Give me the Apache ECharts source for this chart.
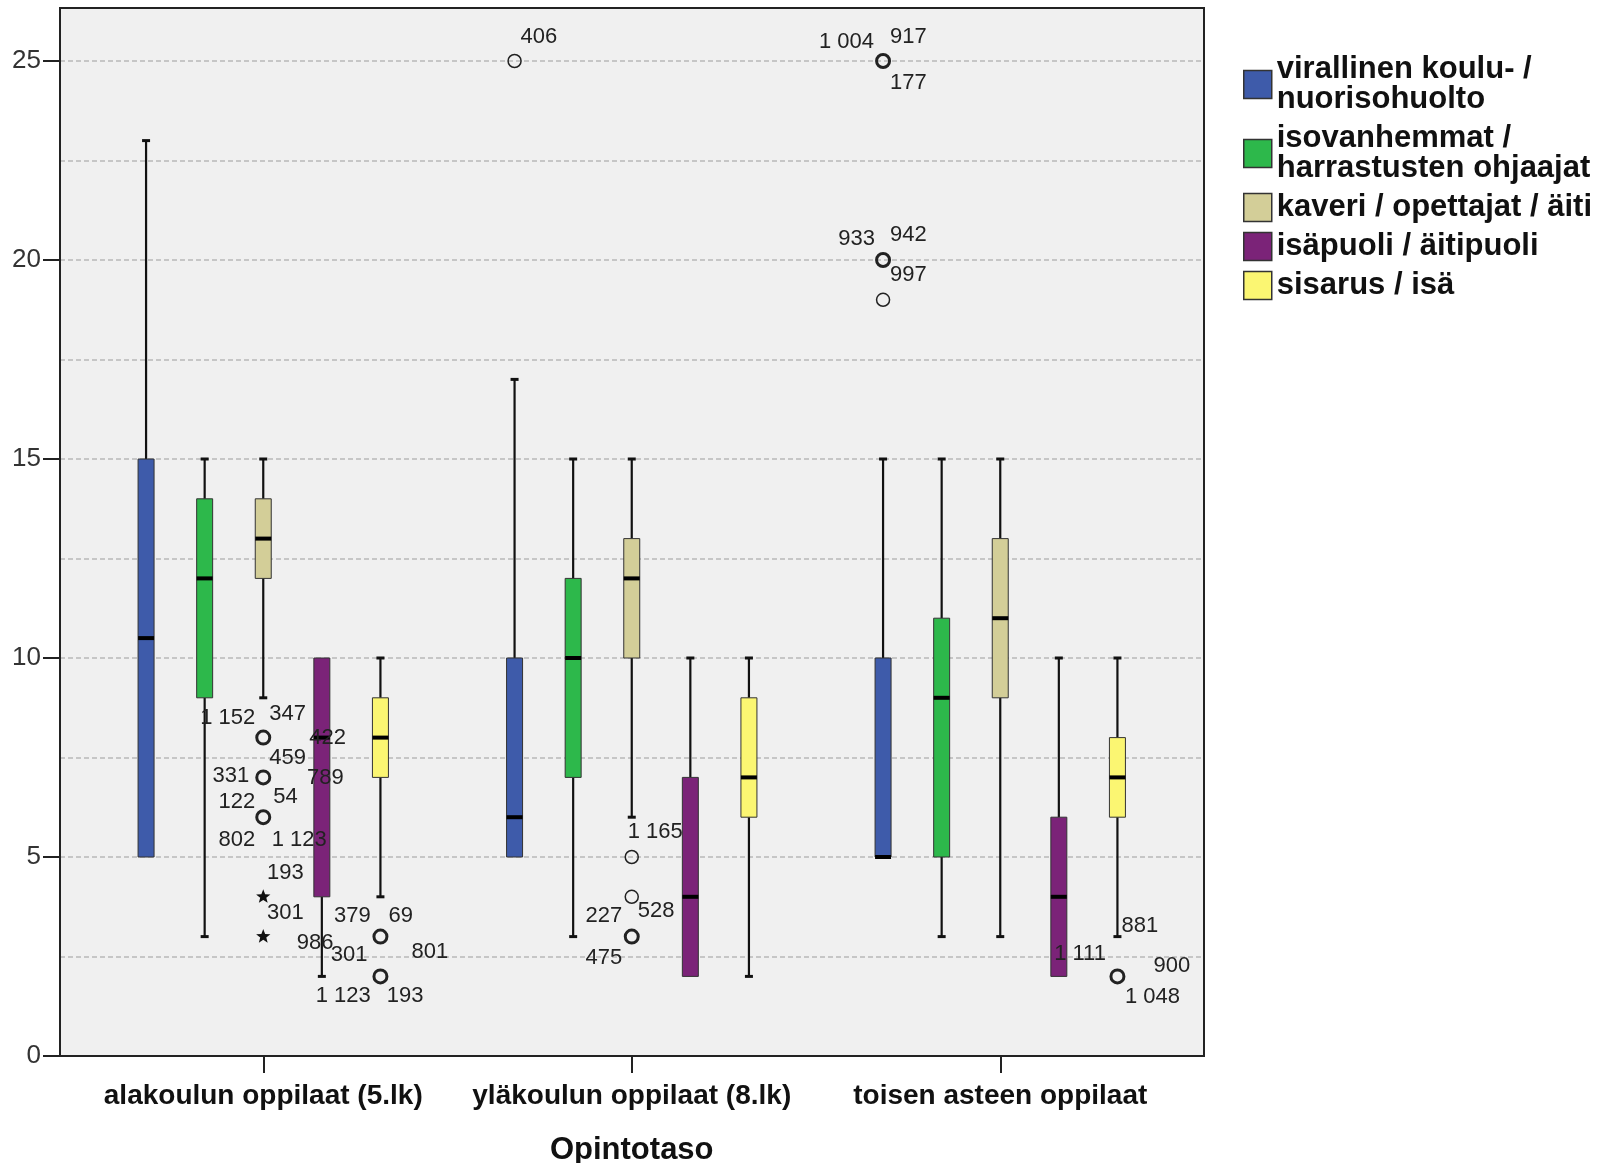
<!DOCTYPE html>
<html><head><meta charset="utf-8">
<script src="https://cdn.jsdelivr.net/npm/echarts@6/dist/echarts.min.js"></script>
<style>html,body{margin:0;padding:0;background:#fff}#c{width:1612px;height:1163px}</style>
</head><body><div id="c"></div>
<script>
// ---------- DATA ----------
const categories = ['alakoulun oppilaat (5.lk)', 'yläkoulun oppilaat (8.lk)', 'toisen asteen oppilaat'];
const seriesNames = ['virallinen koulu- /\nnuorisohuolto', 'isovanhemmat /\nharrastusten ohjaajat', 'kaveri / opettajat / äiti', 'isäpuoli / äitipuoli', 'sisarus / isä'];
const axisTitle = 'Opintotaso';
const yTickLabels = [0, 5, 10, 15, 20, 25];

// [min, q1, median, q3, max] per category
const virallinenBox = [[5, 5, 10.5, 15, 23], [5, 5, 6, 10, 17], [5, 5, 5, 10, 15]];
const isovanhemmatBox = [[3, 9, 12, 14, 15], [3, 7, 10, 12, 15], [3, 5, 9, 11, 15]];
const kaveriBox = [[9, 12, 13, 14, 15], [6, 10, 12, 13, 15], [3, 9, 11, 13, 15]];
const isapuoliBox = [[2, 4, 8, 10, 10], [2, 2, 4, 7, 10], [2, 2, 4, 6, 10]];
const sisarusBox = [[4, 7, 8, 9, 10], [2, 6, 7, 9, 10], [3, 6, 7, 8, 10]];

// outliers: [categoryIndex, value, kind]  kind 0 = circle, 1 = bold circle, 2 = star
const virallinenOut = [[1, 25, 0], [2, 25, 1], [2, 20, 1], [2, 19, 0]];
const isovanhemmatOut = [];
const kaveriOut = [[0, 8, 1], [0, 7, 1], [0, 6, 1], [0, 4, 2], [0, 3, 2], [1, 5, 0], [1, 4, 0], [1, 3, 1]];
const isapuoliOut = [];
const sisarusOut = [[0, 3, 1], [0, 2, 1], [2, 2, 1]];

// case labels: [categoryIndex, value, text]
const virallinenLabels = [[1, 25, '406'], [2, 25, '1 004'], [2, 25, '917'], [2, 25, '177'], [2, 20, '933'], [2, 20, '942'], [2, 20, '997']];
const isovanhemmatLabels = [];
const kaveriLabels = [[0, 8, '1 152'], [0, 8, '347'], [0, 8, '422'], [0, 7, '459'], [0, 7, '331'], [0, 7, '789'],
  [0, 6, '122'], [0, 6, '54'], [0, 6, '802'], [0, 6, '1 123'], [0, 4, '193'], [0, 4, '301'], [0, 3, '986'],
  [1, 5, '1 165'], [1, 3, '227'], [1, 4, '528'], [1, 3, '475']];
const isapuoliLabels = [];
const sisarusLabels = [[0, 3, '379'], [0, 3, '69'], [0, 3, '301'], [0, 3, '801'], [0, 2, '1 123'], [0, 2, '193'],
  [2, 3, '881'], [2, 2, '1 111'], [2, 2, '900'], [2, 2, '1 048']];

// ---------- STYLE / PLACEMENT ----------
const COLORS = ['#3E5BAA', '#2DB84B', '#D3CE98', '#7B2378', '#FBF672'];
const BOX_STEP = 0.159;   // box spacing as fraction of category band
const BOX_WIDTH = 0.0434; // box width as fraction of category band
// label offsets [dx, dy, align]
const virallinenLabelPos = [[6, -24, 'left'], [-9, -19, 'right'], [7, -24, 'left'], [7, 22, 'left'], [-8, -21, 'right'], [7, -25, 'left'], [7, 15, 'left']];
const isovanhemmatLabelPos = [];
const kaveriLabelPos = [[-8, -20, 'right'], [6, -23.5, 'left'], [46, 0, 'left'], [6, -19.3, 'left'], [-14, -1, 'right'], [43.7, 0.7, 'left'],
  [-8, -15.6, 'right'], [10, -20.6, 'left'], [-8, 22.7, 'right'], [8.5, 22.7, 'left'], [3.7, -23.6, 'left'], [3.7, 16.4, 'left'], [33.5, 6.6, 'left'],
  [-4, -25, 'left'], [-9.6, -20.7, 'right'], [6, 14.5, 'left'], [-9.6, 21, 'right']];
const isapuoliLabelPos = [];
const sisarusLabelPos = [[-9.7, -21, 'right'], [8, -21, 'left'], [-13, 18.3, 'right'], [31, 15, 'left'], [-9.7, 20, 'right'], [6.3, 20, 'left'],
  [4, -10.7, 'left'], [-11.5, -22, 'right'], [36, -10, 'left'], [7.5, 21, 'left']];

const allBoxes = [virallinenBox, isovanhemmatBox, kaveriBox, isapuoliBox, sisarusBox];
const allOut = [virallinenOut, isovanhemmatOut, kaveriOut, isapuoliOut, sisarusOut];
const allLabels = [virallinenLabels, isovanhemmatLabels, kaveriLabels, isapuoliLabels, sisarusLabels];
const allLabelPos = [virallinenLabelPos, isovanhemmatLabelPos, kaveriLabelPos, isapuoliLabelPos, sisarusLabelPos];

const FONT = '"Liberation Sans", Arial, sans-serif';

function centerX(api, cat, k) {
  const band = api.size([1, 0])[0];
  return api.coord([cat, 0])[0] + (k - 2) * BOX_STEP * band;
}

function boxRenderer(k) {
  return function (params, api) {
    const cat = api.value(0);
    const mn = api.value(1), q1 = api.value(2), md = api.value(3), q3 = api.value(4), mx = api.value(5);
    const band = api.size([1, 0])[0];
    const cx = centerX(api, cat, k);
    const hw = BOX_WIDTH * band / 2;
    const Y = v => api.coord([cat, v])[1];
    const ch = [];
    const wl = { stroke: '#111', lineWidth: 2.2 };
    const cl = { stroke: '#111', lineWidth: 3 };
    if (mx > q3) {
      ch.push({ type: 'line', shape: { x1: cx, y1: Y(mx), x2: cx, y2: Y(q3) }, style: wl });
      ch.push({ type: 'line', shape: { x1: cx - 4, y1: Y(mx), x2: cx + 4, y2: Y(mx) }, style: cl });
    }
    if (mn < q1) {
      ch.push({ type: 'line', shape: { x1: cx, y1: Y(q1), x2: cx, y2: Y(mn) }, style: wl });
      ch.push({ type: 'line', shape: { x1: cx - 4, y1: Y(mn), x2: cx + 4, y2: Y(mn) }, style: cl });
    }
    ch.push({ type: 'rect', shape: { x: cx - hw, y: Y(q3), width: 2 * hw, height: Y(q1) - Y(q3) },
      style: { fill: api.visual('color'), stroke: '#333', lineWidth: 1 } });
    ch.push({ type: 'line', shape: { x1: cx - hw, y1: Y(md), x2: cx + hw, y2: Y(md) }, style: { stroke: '#000', lineWidth: 4 } });
    return { type: 'group', children: ch };
  };
}

function outRenderer(k) {
  return function (params, api) {
    const cat = api.value(0), v = api.value(1), kind = api.value(2);
    const cx = centerX(api, cat, k);
    const cy = api.coord([cat, v])[1];
    if (kind === 2) {
      const pts = [];
      for (let i = 0; i < 10; i++) {
        const r = i % 2 === 0 ? 7.5 : 3.2;
        const a = -Math.PI / 2 + i * Math.PI / 5;
        pts.push([cx + r * Math.cos(a), cy + r * Math.sin(a)]);
      }
      return { type: 'polygon', shape: { points: pts }, style: { fill: '#111' } };
    }
    return { type: 'circle', shape: { cx: cx, cy: cy, r: 6.5 },
      style: { fill: 'none', stroke: '#222', lineWidth: kind === 1 ? 3 : 1.5 } };
  };
}

function labelRenderer(k) {
  return function (params, api) {
    const cat = api.value(0), v = api.value(1);
    const i = params.dataIndex;
    const p = allLabelPos[k][i];
    const cx = centerX(api, cat, k);
    const cy = api.coord([cat, v])[1];
    return { type: 'text', x: cx + p[0], y: cy + p[1],
      style: { text: allLabels[k][i][2], fill: '#222', font: '22px ' + FONT, align: p[2], verticalAlign: 'middle' } };
  };
}

const series = [];
for (let k = 0; k < 5; k++) {
  series.push({
    type: 'custom', name: seriesNames[k], xAxisIndex: 2, yAxisIndex: 2, clip: false, z: 3,
    itemStyle: { color: COLORS[k] },
    encode: { x: 0, y: [1, 2, 3, 4, 5] },
    data: allBoxes[k].map((b, c) => [c].concat(b)),
    renderItem: boxRenderer(k)
  });
}
for (let k = 0; k < 5; k++) {
  series.push({
    type: 'custom', name: 'out' + k, xAxisIndex: 2, yAxisIndex: 2, clip: false, z: 4,
    encode: { x: 0, y: 1 },
    data: allOut[k].map(o => [o[0], o[1], o[2]]),
    renderItem: outRenderer(k)
  });
  series.push({
    type: 'custom', name: 'lab' + k, xAxisIndex: 2, yAxisIndex: 2, clip: false, z: 5,
    encode: { x: 0, y: 1 },
    data: allLabels[k].map(l => [l[0], l[1]]),
    renderItem: labelRenderer(k)
  });
}

const gridLine = { color: '#b8b8b8', type: [5, 3], width: 1.5 };
const PLOT = { left: 60, right: 408, top: 8, bottom: 107 };

const option = {
  animation: false,
  backgroundColor: '#fff',
  grid: [
    { left: PLOT.left, right: PLOT.right, top: PLOT.top, bottom: PLOT.bottom, outerBoundsMode: 'none', show: true, backgroundColor: '#f0f0f0', borderWidth: 0 },
    { left: PLOT.left, right: PLOT.right, top: 61, bottom: PLOT.bottom, outerBoundsMode: 'none' },
    { left: 79, right: 427.5, top: 61, bottom: PLOT.bottom, outerBoundsMode: 'none' },
    { left: PLOT.left, right: PLOT.right, top: PLOT.top, bottom: PLOT.bottom, outerBoundsMode: 'none', show: true, backgroundColor: 'transparent', borderColor: '#222', borderWidth: 2, z: 10 }
  ],
  xAxis: [
    { gridIndex: 0, type: 'value', show: false },
    { gridIndex: 1, type: 'value', show: false },
    {
      gridIndex: 2, type: 'category', data: categories, boundaryGap: true,
      axisLine: { show: false },
      axisTick: { show: true, alignWithLabel: true, length: 17, lineStyle: { color: '#222', width: 2 } },
      axisLabel: { interval: 0, fontFamily: FONT, fontWeight: 'bold', fontSize: 28, color: '#111', margin: 26 },
      name: axisTitle, nameLocation: 'middle', nameGap: 79,
      nameTextStyle: { fontFamily: FONT, fontWeight: 'bold', fontSize: 31, color: '#111' }
    },
    { gridIndex: 3, type: 'value', show: false }
  ],
  yAxis: [
    { gridIndex: 0, type: 'value', show: false },
    {
      gridIndex: 1, type: 'value', min: 0, max: 25, interval: 5,
      axisLine: { show: false },
      axisTick: { show: true, length: 17, lineStyle: { color: '#222', width: 2 } },
      axisLabel: { fontFamily: FONT, fontSize: 26, color: '#333', margin: 19,
        formatter: v => (yTickLabels.indexOf(v) >= 0 ? String(v) : '') },
      splitLine: { show: true, lineStyle: gridLine },
      minorTick: { show: false, splitNumber: 2 },
      minorSplitLine: { show: true, lineStyle: gridLine }
    },
    { gridIndex: 2, type: 'value', min: 0, max: 25, show: false },
    { gridIndex: 3, type: 'value', show: false }
  ],
  legend: {
    data: seriesNames, orient: 'vertical', left: 1238, top: 49,
    itemWidth: 28, itemHeight: 28, itemGap: 8, icon: 'rect', selectedMode: false,
    itemStyle: { borderColor: '#333', borderWidth: 1.5 },
    textStyle: { fontFamily: FONT, fontWeight: 'bold', fontSize: 31, lineHeight: 30, color: '#111' }
  },
  series: series
};

const chart = echarts.init(document.getElementById('c'), null, { renderer: 'canvas' });
chart.setOption(option);
</script>
</body></html>
